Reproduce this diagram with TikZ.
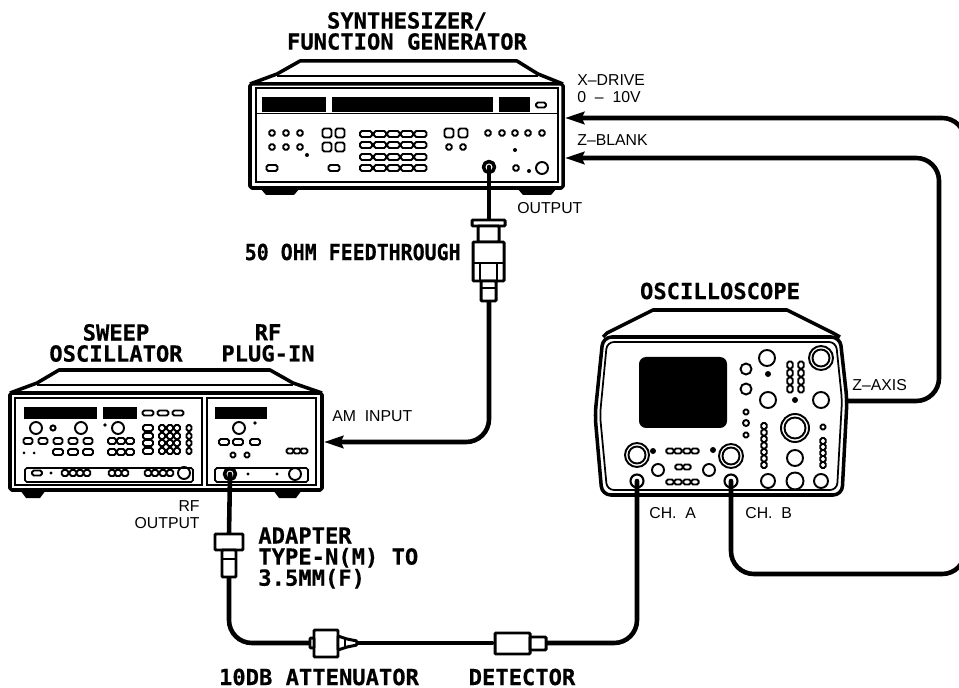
\documentclass[tikz,border=0pt]{standalone}
\usepackage{fontspec}
\setmainfont{Liberation Sans}
\newfontfamily\platefont{DejaVu Sans Mono}[BoldFont=* Bold, BoldFeatures={FakeBold=0.5}]
\usetikzlibrary{arrows.meta}
% 1 unit = 1 pixel of the plate
\tikzset{
  housing/.style={line width=2pt, line join=round},
  panel/.style={line width=1pt},
  ctrl/.style={line width=1.1pt},
  cable/.style={line width=2.6pt, line cap=round, rounded corners=13pt},
  plug/.style={line width=1.7pt, fill=white, rounded corners=0.6pt},
  tip/.style={-{Stealth[length=11pt,width=7pt,inset=1.5pt]}},
  biglabel/.style={font=\platefont\bfseries\fontsize{12.6}{12}\selectfont, align=center, inner sep=0pt},
  smalllabel/.style={font=\fontsize{9}{9.6}\selectfont, inner sep=0pt, anchor=west, align=left}
}
\newcommand{\ctrlbtn}[4]{\draw[ctrl, rounded corners=1pt] ({#1-#3/2},{#2-#4/2}) rectangle ({#1+#3/2},{#2+#4/2})}
\begin{document}
\begin{tikzpicture}[x=0.02cm, y=-0.02cm]
    \clip (0,0) rectangle (959,688);

    % synthesizer
    \draw[housing] (250,84) -- (277,74) -- (300,61) -- (517,61) -- (538,74) -- (563,84);
    \draw[panel] (277,76) -- (538,76);
    \draw[housing, rounded corners=1pt] (250,84) rectangle (563,188);
    \draw[panel] (256,88) rectangle (558,182);
    \draw[panel] (256,113.5) -- (558,113.5);
    \fill (262,97) rectangle (326,112);
    \fill (332,97) rectangle (493,112);
    \fill (499,97) rectangle (530,112);
    \fill (260,188) -- (300,188) -- (294,195) -- (266,195) -- cycle;
    \fill (517,188) -- (557,188) -- (551,195) -- (523,195) -- cycle;
    \ctrlbtn{541}{105}{10}{5};
    \foreach \x in {272,286,300} \foreach \y in {133,147} \ctrlbtn{\x}{\y}{5.5}{5.5};
    \foreach \x in {327,340,449,463} \ctrlbtn{\x}{133}{9}{9};
    \foreach \x in {327,340} \ctrlbtn{\x}{147}{9}{9};
    \foreach \x in {449,463} \ctrlbtn{\x}{147}{5.5}{5.5};
    \foreach \x in {366,380,393.5,407,420.5} \foreach \y in {134,145,157,168} \ctrlbtn{\x}{\y}{12}{6};
    \foreach \x in {488,502,515,528,542} \ctrlbtn{\x}{133}{5.5}{5.5};
    \ctrlbtn{272}{168}{11}{6};
    \ctrlbtn{334}{168}{11}{6};
    \ctrlbtn{516}{168}{5.5}{5.5};
    \fill (307,155) circle (2);
    \fill (515,150) circle (2);
    \fill (529,171) circle (2);
    \draw[ctrl] (542,168) circle (6);
    \draw[housing, fill=white] (489,167) circle (5.5);

    % sweep oscillator
    \draw[housing] (10,393) -- (37,383) -- (59,370) -- (270,370) -- (293,383) -- (322,393);
    \draw[panel] (37,385) -- (293,385);
    \draw[housing, rounded corners=1pt] (10,393) rectangle (322,490);
    \draw[panel] (15,398) rectangle (202,485);
    \draw[panel] (207,398) rectangle (316,485);
    \draw[panel, rounded corners=1pt] (25,468) rectangle (193,482);
    \draw[panel, rounded corners=1pt] (215,468) rectangle (308,482);
    \fill (20,490) -- (46,490) -- (40,498) -- (26,498) -- cycle;
    \fill (273,490) -- (302,490) -- (296,498) -- (279,498) -- cycle;
    \fill (24,407) rectangle (97,419);
    \fill (103,407) rectangle (137,419);
    \fill (215,407) rectangle (267,419);
    \foreach \x in {148,163,178} \ctrlbtn{\x}{413}{11}{5};
    \foreach \x in {36,81,118,239} \draw[ctrl] (\x,428) circle (6);
    \draw[ctrl] (53,428) circle (2.6);
    \fill (105,425) circle (1.8);
    \fill (255,423) circle (1.8);
    \foreach \x in {28,43,58,73,88} \ctrlbtn{\x}{441}{9}{6};
    \foreach \x in {58,73,88} \ctrlbtn{\x}{452}{10}{6};
    \fill (24,453) circle (1.5);
    \fill (34,453) circle (1.5);
    \foreach \x in {112,121,130} \foreach \y in {441,452} \ctrlbtn{\x}{\y}{8}{6};
    \foreach \y in {428,436,443,451} {
        \ctrlbtn{148}{\y}{10}{6};
        \foreach \x in {162,170,177} \ctrlbtn{\x}{\y}{6}{6};
        \ctrlbtn{189}{\y}{5}{6};
    }
    \ctrlbtn{37}{473}{10}{5};
    \fill (51,473) circle (1.6);
    \foreach \x in {65,73,80,87,112,118,125,148,155,163,170} \ctrlbtn{\x}{473}{6.5}{6};
    \draw[ctrl] (184,473) circle (6);
    \foreach \x in {224,238,255} \ctrlbtn{\x}{442}{10}{6};
    \foreach \x in {233,247} \ctrlbtn{\x}{455}{5}{5};
    \foreach \x in {290,297,304} \ctrlbtn{\x}{451}{7}{5};
    \fill (248,474) circle (1.6);
    \fill (277,474) circle (1.6);
    \draw[ctrl] (295,474) circle (6);
    \draw[housing, fill=white] (230,474) circle (5.5);

    % oscilloscope
    \draw[housing] (603,337) -- (607,333) -- (653,310) -- (787,310) -- (833,333) -- (840,337);
    \draw[housing, rounded corners=5pt] (603,337) -- (840,337) -- (847,400) -- (842,495) -- (602,495) -- (595,415) -- cycle;
    \draw[panel, rounded corners=4pt] (607,342) -- (836,342) -- (842,400) -- (837,490) -- (607,490) -- (600,415) -- cycle;
    \fill[rounded corners=4pt] (639,357) rectangle (727,428);
    \foreach \x/\y/\r in {767/358/8,746/369/5.5,746/389/5.5,768/400/8,821/400/8,795/458/8,768/481/7,795/481/8.5,821/481/7,658/470/6,709/470/6,746/423/3} \draw[ctrl] (\x,\y) circle (\r);
    \foreach \x/\y/\r in {821/358/12,795/428/14,637/455/12,731/456/12} {
        \draw[ctrl] (\x,\y) circle (\r);
        \draw[ctrl] (\x,\y) circle ({\r-3.5});
    }
    \foreach \x/\y in {768/374,795/400,653/451,713/450} \fill (\x,\y) circle (3);
    \foreach \x in {790,801} \foreach \y in {365,373,381,389} \ctrlbtn{\x}{\y}{5.5}{7};
    \foreach \y in {412,435} \ctrlbtn{746}{\y}{5}{5};
    \foreach \y in {426,432.5,439,445.5,452,458.5,465} \ctrlbtn{764}{\y}{5.5}{6};
    \ctrlbtn{823}{427}{5}{5};
    \foreach \y in {441,447,453,459,465} \ctrlbtn{823}{\y}{5.5}{6};
    \foreach \x in {670,678,687,695} {
        \ctrlbtn{\x}{451}{7.5}{5};
        \ctrlbtn{\x}{482}{7.5}{5};
    }
    \foreach \x in {679,687} \ctrlbtn{\x}{467}{7.5}{5};
    \draw[housing, fill=white, line width=1.2pt] (637,481) circle (6.5);
    \draw[housing, fill=white, line width=1.2pt] (731,481) circle (6.5);

    % cable ends
    \coordinate (synthout) at (489,167);
    \coordinate (fttop) at (489,221);
    \coordinate (ftbot) at (489,300);
    \coordinate (aminput) at (324,442);
    \coordinate (rfout) at (230,474);
    \coordinate (adtop) at (229,534);
    \coordinate (adbot) at (229,577);
    \coordinate (attleft) at (312,643);
    \coordinate (attright) at (357,643);
    \coordinate (detleft) at (492,643);
    \coordinate (detright) at (546,643);
    \coordinate (chana) at (637,481);
    \coordinate (chanb) at (731,481);
    \coordinate (zaxis) at (847,401);
    \coordinate (zbot) at (939,401);
    \coordinate (ztop) at (939,158);
    \coordinate (zblank) at (565,158);
    \coordinate (xdrive) at (565,118);
    \coordinate (xturn) at (965,118);
    \coordinate (xoff) at (965,200);
    \coordinate (boff) at (965,500);
    \coordinate (bturn) at (965,574);
    \coordinate (bleft) at (731,574);

    \draw[cable] (synthout) -- (fttop);
    \draw[cable, tip] (ftbot) |- (aminput);
    \draw[cable] (rfout) -- (adtop);
    \draw[cable] (adbot) |- (attleft);
    \draw[cable] (attright) -- (detleft);
    \draw[cable] (detright) -| (chana);
    \draw[cable, tip] (zaxis) -- (zbot) -- (ztop) -- (zblank);
    \draw[cable, tip] (xoff) -- (xturn) -- (xdrive);
    \draw[cable] (chanb) -- (bleft) -- (bturn) -- (boff);

    % 50 ohm feedthrough
    \draw[plug] (472,220) rectangle (505,226);
    \draw[plug] (478,226) rectangle (499,242);
    \draw[plug] (473,242) rectangle (504,281);
    \draw[panel] (473,263) -- (504,263);
    \draw[panel] (480,263) -- (480,281);
    \draw[panel] (497,263) -- (497,281);
    \draw[plug] (481,281) rectangle (496,301);
    \draw[panel] (481,288) -- (496,288);

    % adapter
    \draw[plug] (215,534) rectangle (243,550);
    \draw[plug] (222,550) rectangle (236,577);
    \draw[panel] (222,559) -- (236,559);

    % attenuator
    \draw[plug] (314,630) rectangle (338,657);
    \draw[plug] (310,638) rectangle (314,648);
    \draw[plug] (338,636) -- (347,639) -- (357,641) -- (357,645) -- (347,647) -- (338,650) -- cycle;
    \draw[panel] (345,639) -- (345,648);

    % detector
    \draw[plug] (495,633) rectangle (530,654);
    \draw[plug] (530,637) rectangle (546,650);

    \node[biglabel] (synthlabel) at (407,31) {SYNTHESIZER/\\FUNCTION GENERATOR};
    \node[biglabel] (sweeplabel) at (116,343) {SWEEP\\OSCILLATOR};
    \node[biglabel] (pluglabel) at (268,343) {RF\\PLUG-IN};
    \node[biglabel] (scopelabel) at (720,291) {OSCILLOSCOPE};
    \node[biglabel, anchor=east, xscale=0.9] (ftlabel) at (461,252) {50 OHM FEEDTHROUGH};
    \node[biglabel, anchor=west, align=left] (adlabel) at (258,558) {ADAPTER\\TYPE-N(M) TO\\3.5MM(F)};
    \node[biglabel] (attlabel) at (319,677) {10DB ATTENUATOR};
    \node[biglabel] (detlabel) at (522,677) {DETECTOR};
    \node[smalllabel] (xlabel) at (577,88.5) {X--DRIVE\\0 \ -- \ 10V};
    \node[smalllabel] (zblanklabel) at (577,140) {Z--BLANK};
    \node[smalllabel] (outlabel) at (517,208) {OUTPUT};
    \node[smalllabel] (amlabel) at (332,416) {AM \ INPUT};
    \node[smalllabel, anchor=east, align=right] (rflabel) at (200,515) {RF\\OUTPUT};
    \node[smalllabel] (chalabel) at (649,513) {CH. \ A};
    \node[smalllabel] (chblabel) at (745,513) {CH. \ B};
    \node[smalllabel] (zaxislabel) at (852,385) {Z--AXIS};
\end{tikzpicture}
\end{document}
